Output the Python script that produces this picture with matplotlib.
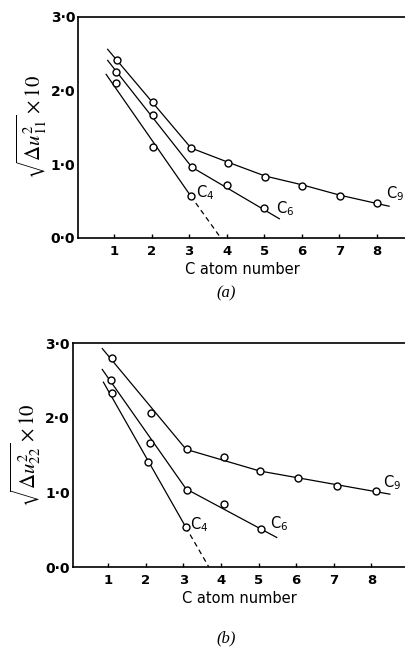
import matplotlib.pyplot as plt

# ---------------- Panel (a): measured points ----------------
a_c4_x = [1.06, 2.03, 3.04]
a_c4_y = [2.10, 1.23, 0.57]
a_c6_x = [1.06, 2.03, 3.07, 4.01, 5.00]
a_c6_y = [2.25, 1.67, 0.96, 0.72, 0.40]
a_c9_x = [1.07, 2.03, 3.05, 4.02, 5.02, 6.01, 7.01, 8.00]
a_c9_y = [2.42, 1.85, 1.22, 1.02, 0.83, 0.71, 0.57, 0.48]

# ---------------- Panel (a): drawn trend lines ----------------
a_c4_line_x = [0.79, 3.04]
a_c4_line_y = [2.22, 0.57]
a_c4_dash_x = [3.04, 3.84]
a_c4_dash_y = [0.57, 0.00]
a_c6_line_x = [0.83, 3.07, 5.40]
a_c6_line_y = [2.41, 0.96, 0.26]
a_c9_line_x = [0.83, 3.05, 4.02, 5.02, 6.01, 7.01, 8.32]
a_c9_line_y = [2.56, 1.22, 1.03, 0.84, 0.72, 0.58, 0.43]

# ---------------- Panel (b): measured points ----------------
b_c4_x = [1.09, 2.06, 3.06]
b_c4_y = [2.33, 1.41, 0.54]
b_c6_x = [1.07, 2.11, 3.09, 4.08, 5.05]
b_c6_y = [2.51, 1.67, 1.03, 0.85, 0.51]
b_c9_x = [1.11, 2.14, 3.09, 4.08, 5.03, 6.04, 7.09, 8.11]
b_c9_y = [2.81, 2.07, 1.58, 1.48, 1.29, 1.19, 1.09, 1.02]

# ---------------- Panel (b): drawn trend lines ----------------
b_c4_line_x = [0.87, 3.06]
b_c4_line_y = [2.48, 0.54]
b_c4_dash_x = [3.06, 3.68]
b_c4_dash_y = [0.54, 0.00]
b_c6_line_x = [0.84, 3.07, 5.48]
b_c6_line_y = [2.65, 1.05, 0.40]
b_c9_line_x = [0.84, 3.07, 5.03, 8.49]
b_c9_line_y = [2.93, 1.58, 1.29, 0.98]

x_ticks = [1, 2, 3, 4, 5, 6, 7, 8]
y_ticks = [0, 1, 2, 3]
y_tick_labels = ["0\u00b70", "1\u00b70", "2\u00b70", "3\u00b70"]
series_names = ["C$_4$", "C$_6$", "C$_9$"]

fig = plt.figure(figsize=(4.06, 6.5), dpi=100)

sans = "DejaVu Sans"


def style_axes(ax, xlim, ylabel):
    ax.set_xlim(*xlim)
    ax.set_ylim(0, 3)
    ax.spines["right"].set_visible(False)
    for s in ["left", "bottom", "top"]:
        ax.spines[s].set_linewidth(1.2)
    ax.set_xticks(x_ticks)
    ax.set_xticklabels([str(t) for t in x_ticks], fontfamily=sans, fontsize=9.5,
                       fontweight="bold")
    ax.set_yticks(y_ticks)
    ax.set_yticklabels(y_tick_labels, fontfamily=sans, fontsize=10,
                       fontweight="bold")
    ax.tick_params(axis="x", direction="in", length=3, width=1, pad=5)
    ax.tick_params(axis="y", length=0, pad=2)
    ax.set_xlabel("C atom number", fontfamily=sans, fontsize=10.5, labelpad=3)
    ax.set_ylabel(ylabel, fontsize=15, math_fontfamily="stix", labelpad=1)


def draw(ax, pts, lines, dash, labels):
    for lx, ly in lines:
        ax.plot(lx, ly, color="black", lw=0.9, zorder=2)
    ax.plot(dash[0], dash[1], color="black", lw=0.9, ls=(0, (4, 3)), zorder=2)
    for px, py in pts:
        ax.plot(px, py, "o", ms=5, mfc="white", mec="black", mew=1.0,
                ls="none", zorder=3)
    for (tx, ty), name in zip(labels, series_names):
        ax.text(tx, ty, name, fontfamily=sans, fontsize=10.5, ha="left",
                va="center")


# ---------------- Panel (a) ----------------
ax1 = fig.add_axes([0.192, 0.634, 0.808, 0.340])
draw(ax1,
     [(a_c4_x, a_c4_y), (a_c6_x, a_c6_y), (a_c9_x, a_c9_y)],
     [(a_c4_line_x, a_c4_line_y), (a_c6_line_x, a_c6_line_y),
      (a_c9_line_x, a_c9_line_y)],
     (a_c4_dash_x, a_c4_dash_y),
     [(3.17, 0.62), (5.3, 0.40), (8.25, 0.60)])
style_axes(ax1, (0.04, 8.77), r"$\sqrt{\Delta u^{2}_{11}}\times 10$")
fig.text(0.558, 0.549, "(a)", fontfamily="Liberation Serif", style="italic",
         fontsize=12, ha="center", va="center")

# ---------------- Panel (b) ----------------
ax2 = fig.add_axes([0.179, 0.1272, 0.821, 0.3446])
draw(ax2,
     [(b_c4_x, b_c4_y), (b_c6_x, b_c6_y), (b_c9_x, b_c9_y)],
     [(b_c4_line_x, b_c4_line_y), (b_c6_line_x, b_c6_line_y),
      (b_c9_line_x, b_c9_line_y)],
     (b_c4_dash_x, b_c4_dash_y),
     [(3.17, 0.57), (5.3, 0.59), (8.3, 1.13)])
style_axes(ax2, (0.053, 8.92), r"$\sqrt{\Delta u^{2}_{22}}\times 10$")
fig.text(0.558, 0.018, "(b)", fontfamily="Liberation Serif", style="italic",
         fontsize=12, ha="center", va="center")

fig.savefig("out.png", dpi=100)
